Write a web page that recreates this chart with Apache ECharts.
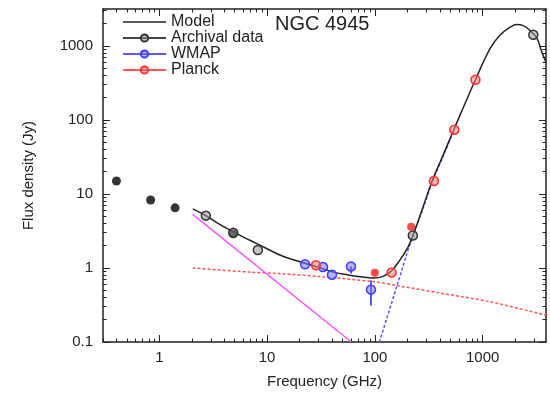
<!DOCTYPE html>
<html>
<head>
<meta charset="utf-8">
<script src="https://cdn.jsdelivr.net/npm/echarts@6/dist/echarts.min.js"></script>
<style>html,body{margin:0;padding:0;background:#fff}#c{width:550px;height:394px}</style>
</head>
<body>
<div id="c"></div>
<script>
// ---- data (GHz, Jy) ----
const modelFreq = [2.04, 2.7, 3.5, 4.85, 7, 10, 14, 22, 30, 41, 58, 80, 98, 119, 142, 170, 203, 226, 279, 340, 428, 540, 857, 1170, 1445, 1790, 2060, 2360, 2740, 3200, 3500, 3870];
const modelFlux = [6.3, 5.1, 4.0, 3.07, 2.35, 1.82, 1.44, 1.17, 1.02, 0.88, 0.80, 0.75, 0.73, 0.77, 0.91, 1.27, 1.92, 2.77, 6.6, 15, 33, 74, 350, 920, 1400, 1780, 1950, 1900, 1630, 1260, 870, 600];
const syncFreq = [2.04, 60.5];
const syncFlux = [5.3, 0.1];
const ffFreq = [2.04, 6.9, 13, 30, 100, 170, 400, 1170, 3870];
const ffFlux = [1.0, 0.88, 0.84, 0.77, 0.65, 0.57, 0.46, 0.35, 0.23];
const dustFreq = [110, 160, 218, 280, 340, 428, 540];
const dustFlux = [0.1, 0.57, 2.4, 6.4, 14.5, 32, 72];
const archFreq = [2.7, 4.85, 8.2, 225, 2950];
const archFlux = [5.1, 3.0, 1.75, 2.75, 1420];
const blackFreq = [0.40, 0.83, 1.40, 4.85];
const blackFlux = [15, 8.3, 6.5, 2.9];
const wmapFreq = [22.5, 33, 40, 60, 92];
const wmapFlux = [1.12, 1.03, 0.81, 1.05, 0.51];
const errFreq = [60, 92];
const errLow = [0.84, 0.31];
const errHigh = [1.05, 0.68];
const planckFreq = [28.4, 143, 353, 545, 857];
const planckFlux = [1.09, 0.87, 15, 74, 350];
const redFreq = [100, 217];
const redFlux = [0.86, 3.6];
const xMajor = [1, 10, 100, 1000];
const xMajorLabels = ['1', '10', '100', '1000'];
const xMinor = [0.3,0.4,0.5,0.6,0.7,0.8,0.9,2,3,4,5,6,7,8,9,20,30,40,50,60,70,80,90,200,300,400,500,600,700,800,900,2000,3000];
const yMajor = [0.1, 1, 10, 100, 1000];
const yMajorLabels = ['0.1', '1', '10', '100', '1000'];
const yMinor = [0.2,0.3,0.4,0.5,0.6,0.7,0.8,0.9,2,3,4,5,6,7,8,9,20,30,40,50,60,70,80,90,200,300,400,500,600,700,800,900,2000,3000];

const X_MIN = 0.3, X_MAX = 3870, Y_MIN = 0.1, Y_MAX = 3162;
const zip = (a, b) => a.map((v, i) => [v, b[i]]);
const FONT = 'Liberation Sans';
const AX = '#222';

function fmt(vals, labels) {
  return v => { let best = 0; for (let i = 0; i < vals.length; i++) if (Math.abs(Math.log10(v) - Math.log10(vals[i])) < Math.abs(Math.log10(v) - Math.log10(vals[best]))) best = i; return labels[best]; };
}

function xAx(pos, major, labels) {
  return {
    type: 'log', position: pos, min: X_MIN, max: X_MAX, logBase: 10,
    axisLine: { show: major, lineStyle: { color: AX, width: 1.5 } },
    axisTick: { show: true, inside: true, length: major ? 7 : 3.5, lineStyle: { color: AX, width: 1 }, customValues: major ? xMajor : xMinor },
    axisLabel: labels ? { show: true, customValues: xMajor, formatter: fmt(xMajor, xMajorLabels), color: AX, fontSize: 15, fontFamily: FONT, margin: 8 } : { show: false },
    splitLine: { show: false }, minorTick: { show: false }
  };
}
function yAx(pos, major, labels) {
  return {
    type: 'log', position: pos, min: Y_MIN, max: Y_MAX, logBase: 10,
    axisLine: { show: major, lineStyle: { color: AX, width: 1.5 } },
    axisTick: { show: true, inside: true, length: major ? 7 : 3.5, lineStyle: { color: AX, width: 1 }, customValues: major ? yMajor : yMinor },
    axisLabel: labels ? { show: true, customValues: yMajor, formatter: fmt(yMajor, yMajorLabels), color: AX, fontSize: 15, fontFamily: FONT, margin: 10 } : { show: false },
    splitLine: { show: false }, minorTick: { show: false }
  };
}

const xAxes = [xAx('bottom', true, true), xAx('bottom', false, false), xAx('top', true, false), xAx('top', false, false)];
xAxes[0].name = 'Frequency (GHz)';
xAxes[0].nameLocation = 'middle';
xAxes[0].nameGap = 32;
xAxes[0].nameTextStyle = { fontSize: 15, fontFamily: FONT, color: AX };
const yAxes = [yAx('left', true, true), yAx('left', false, false), yAx('right', true, false), yAx('right', false, false)];
yAxes[0].name = 'Flux density (Jy)';
yAxes[0].nameLocation = 'middle';
yAxes[0].nameGap = 67;
yAxes[0].nameTextStyle = { fontSize: 15, fontFamily: FONT, color: AX };

const chart = echarts.init(document.getElementById('c'), null, { renderer: 'canvas' });
chart.setOption({
  animation: false,
  backgroundColor: '#fff',
  title: { text: 'NGC 4945', left: 275, top: 14, padding: 0, textStyle: { fontSize: 20, fontWeight: 'normal', fontFamily: FONT, color: '#222' } },
  grid: { left: 103, right: 4, top: 9, bottom: 52, containLabel: false },
  legend: {
    orient: 'vertical', left: 122, top: 14, padding: 0, itemGap: 0, itemWidth: 43, itemHeight: 9,
    textStyle: { fontSize: 16, fontFamily: FONT, color: '#222', lineHeight: 16, padding: [0, 0, 0, 0] },
    lineStyle: { opacity: 1, width: 2 },
    selectedMode: false,
    data: [
      { name: 'Model', itemStyle: { opacity: 0, borderWidth: 0 }, lineStyle: { width: 1.5, opacity: 1, color: '#222' } },
      { name: 'Archival data', lineStyle: { width: 2, opacity: 1, color: '#444' } },
      { name: 'WMAP', lineStyle: { width: 2, opacity: 1, color: '#5a5aff' } },
      { name: 'Planck', lineStyle: { width: 2, opacity: 1, color: '#ff5a5a' } }
    ]
  },
  xAxis: xAxes,
  yAxis: yAxes,
  series: [
    { name: 'ff', type: 'line', data: zip(ffFreq, ffFlux), showSymbol: false, smooth: 0.3, silent: true, z: 2,
      lineStyle: { color: '#ff5555', width: 1.5, type: [3, 2] } },
    { name: 'sync', type: 'line', data: zip(syncFreq, syncFlux), showSymbol: false, silent: true, z: 2,
      lineStyle: { color: '#ff55ff', width: 1.5 } },
    { name: 'dust', type: 'line', data: zip(dustFreq, dustFlux), showSymbol: false, smooth: 0.3, silent: true, z: 2,
      lineStyle: { color: '#5555ff', width: 1.5, type: [3, 2] } },
    { name: 'Model', type: 'line', data: zip(modelFreq, modelFlux), symbol: 'none', smooth: 0.4, silent: true, z: 3,
      lineStyle: { color: '#222', width: 1.5 }, itemStyle: { color: '#222' } },
    { name: 'errs', type: 'custom', data: errFreq.map((f, i) => [f, errLow[i], errHigh[i]]), z: 4, silent: true,
      renderItem: (params, api) => {
        const a = api.coord([api.value(0), api.value(1)]);
        const b = api.coord([api.value(0), api.value(2)]);
        return { type: 'line', shape: { x1: a[0], y1: a[1], x2: b[0], y2: b[1] }, style: { stroke: '#5a5aff', lineWidth: 2 } };
      } },
    { name: 'black', type: 'scatter', data: zip(blackFreq, blackFlux), symbol: 'circle', symbolSize: 9, z: 5, silent: true,
      itemStyle: { color: '#000' } },
    { name: 'Archival data', type: 'line', data: zip(archFreq, archFlux), symbol: 'circle', symbolSize: 9, showAllSymbol: true, z: 6, silent: true,
      lineStyle: { opacity: 0, color: '#444' }, itemStyle: { color: 'rgba(150,150,150,0.55)', borderColor: '#333', borderWidth: 1.5 } },
    { name: 'WMAP', type: 'line', data: zip(wmapFreq, wmapFlux), symbol: 'circle', symbolSize: 9, showAllSymbol: true, z: 6, silent: true,
      lineStyle: { opacity: 0, color: '#5a5aff' }, itemStyle: { color: 'rgba(120,120,255,0.55)', borderColor: '#3c3cff', borderWidth: 1.5 } },
    { name: 'Planck', type: 'line', data: zip(planckFreq, planckFlux), symbol: 'circle', symbolSize: 9, showAllSymbol: true, z: 6, silent: true,
      lineStyle: { opacity: 0, color: '#ff5a5a' }, itemStyle: { color: 'rgba(255,120,120,0.55)', borderColor: '#ff3030', borderWidth: 1.5 } },
    { name: 'red', type: 'scatter', data: zip(redFreq, redFlux), symbol: 'circle', symbolSize: 8, z: 7, silent: true,
      itemStyle: { color: '#ff1a1a' } }
  ]
});
</script>
</body>
</html>
